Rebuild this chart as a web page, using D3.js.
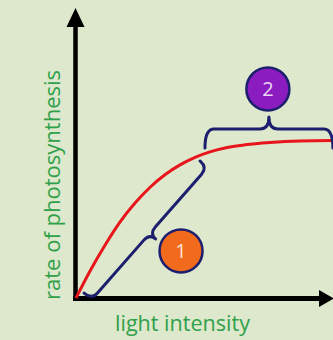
<!DOCTYPE html>
<html><head><meta charset="utf-8">
<script src="https://cdn.jsdelivr.net/npm/d3@7"></script>
<style>html,body{margin:0;padding:0;background:#dde8cc;}svg{display:block;}</style>
</head><body>
<script>
// curve: light intensity vs rate of photosynthesis (arbitrary units 0-100)
const curveX = [0, 5.4, 11.2, 16.9, 22.7, 28.5, 34.2, 40, 45.8, 51.5, 57.3, 65, 74.6, 86.2, 100];
const curveY = [0, 10.4, 20.4, 29.2, 36.5, 42.6, 47.4, 51.2, 54.1, 56.2, 57.7, 58.9, 59.8, 60.4, 60.6];
const axisLabels = ["light intensity", "rate of photosynthesis"];
// annotations (data coordinates)
const braceStart = [[3.1, 1.9], [49.6, 57.7]];
const braceEnd = [[47.7, 52.7], [98.8, 57.7]];
const markerPos = [[40.4, 18.1], [73.8, 80.4]];
const markerLabels = ["1", "2"];

const W = 333, H = 340;
const svg = d3.select("body").append("svg").attr("width", W).attr("height", H);
svg.append("rect").attr("width", W).attr("height", H).attr("fill", "#dde8cc");

const x = d3.scaleLinear().domain([0, 100]).range([76, 336]);
const y = d3.scaleLinear().domain([0, 100]).range([298, 38]);

const navy = "#1c1f6e";
// axes
svg.append("line").attr("x1", 75.5).attr("y1", 300.5).attr("x2", 75.5).attr("y2", 20)
  .attr("stroke", "#000").attr("stroke-width", 4.5);
svg.append("path").attr("d", "M75.5,8 L66.5,27 L84.5,27 Z").attr("fill", "#000");
svg.append("line").attr("x1", 73).attr("y1", 298.5).attr("x2", 322).attr("y2", 298.5)
  .attr("stroke", "#000").attr("stroke-width", 5);
svg.append("path").attr("d", "M334,298.5 L319,290 L319,307 Z").attr("fill", "#000");

// curve
const pts = curveX.map((v, i) => [v, curveY[i]]);
svg.append("path").datum(pts)
  .attr("d", d3.line().x(d => x(d[0])).y(d => y(d[1])).curve(d3.curveMonotoneX))
  .attr("fill", "none").attr("stroke", "#e8161c").attr("stroke-width", 3);

// brace generator: p1->p2, side, h1 (hook), h2 (cusp)
function brace(p1, p2, side, h1, h2, r) {
  const dx = p2[0] - p1[0], dy = p2[1] - p1[1];
  const L = Math.hypot(dx, dy);
  const ux = dx / L, uy = dy / L;
  const nx = -uy * side, ny = ux * side;
  const P = (u, v) => [p1[0] + ux * u + nx * v, p1[1] + uy * u + ny * v].map(n => n.toFixed(2)).join(",");
  const m = L / 2;
  return "M" + P(0, 0) +
    " Q" + P(0, h1) + " " + P(r, h1) +
    " L" + P(m - r, h1) +
    " Q" + P(m, h1) + " " + P(m, h1 + h2) +
    " Q" + P(m, h1) + " " + P(m + r, h1) +
    " L" + P(L - r, h1) +
    " Q" + P(L, h1) + " " + P(L, 0);
}
const braceParams = [[1, 10, 8, 9], [-1, 19, 12, 9]];
braceStart.forEach((s, i) => {
  const p1 = [x(s[0]), y(s[1])], p2 = [x(braceEnd[i][0]), y(braceEnd[i][1])];
  const [side, h1, h2, r] = braceParams[i];
  svg.append("path").attr("d", brace(p1, p2, side, h1, h2, r))
    .attr("fill", "none").attr("stroke", navy).attr("stroke-width", 3)
    .attr("stroke-linecap", "round").attr("stroke-linejoin", "round");
});

// markers
const markerFill = ["#f26a1c", "#8a1cc0"];
const markerText = ["#fbe3d2", "#ecd6f5"];
markerPos.forEach((p, i) => {
  svg.append("circle").attr("cx", x(p[0])).attr("cy", y(p[1])).attr("r", 21.5)
    .attr("fill", markerFill[i]).attr("stroke", navy).attr("stroke-width", 2.5);
  svg.append("text").attr("x", x(p[0])).attr("y", y(p[1]) + 7.5)
    .attr("text-anchor", "middle").attr("font-family", "Open Sans, sans-serif")
    .attr("font-size", 20).attr("fill", markerText[i]).text(markerLabels[i]);
});

// axis labels
svg.append("text").attr("x", 182.5).attr("y", 331)
  .attr("text-anchor", "middle").attr("font-family", "Open Sans, sans-serif")
  .attr("font-size", 21).attr("fill", "#30a04a")
  .attr("textLength", 135).attr("lengthAdjust", "spacingAndGlyphs")
  .text(axisLabels[0]);
svg.append("text").attr("transform", "translate(60,185) rotate(-90)")
  .attr("text-anchor", "middle").attr("font-family", "Open Sans, sans-serif")
  .attr("font-size", 21).attr("fill", "#30a04a")
  .attr("textLength", 230).attr("lengthAdjust", "spacingAndGlyphs")
  .text(axisLabels[1]);
</script>
</body></html>
